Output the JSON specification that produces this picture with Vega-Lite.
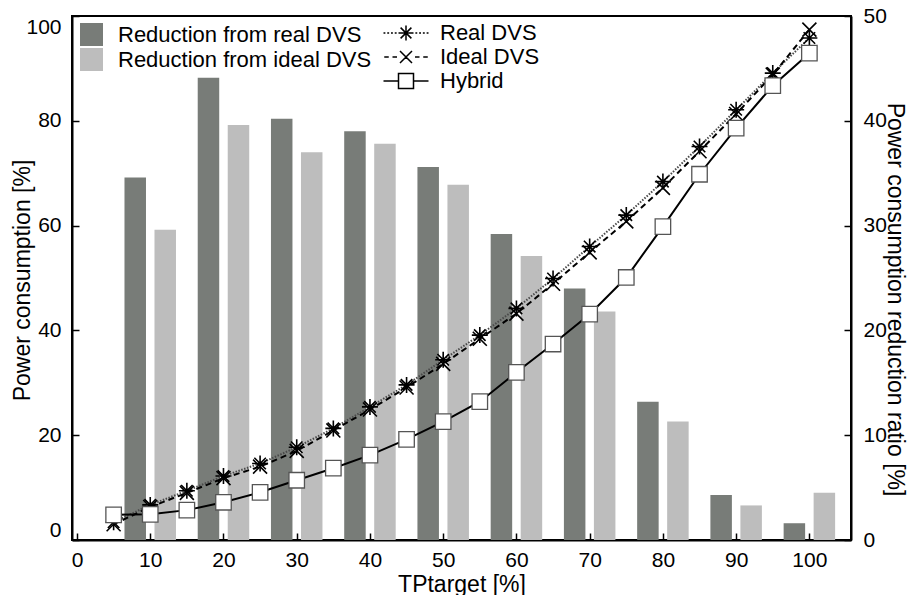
{
  "$schema": "https://vega.github.io/schema/vega-lite/v6.json",
  "width": 779,
  "height": 524,
  "autosize": "none",
  "padding": {"left": 72, "top": 16, "right": 63, "bottom": 55},
  "background": "white",
  "config": {
    "font": "Liberation Sans",
    "view": {"stroke": "black", "strokeWidth": 2},
    "axis": {
      "domainColor": "black", "domainWidth": 2,
      "tickColor": "black", "tickWidth": 1.5, "tickSize": -7,
      "labelFontSize": 21, "labelColor": "black", "labelFont": "Liberation Sans",
      "titleFontSize": 23, "titleFontWeight": "normal", "titleColor": "black", "titleFont": "Liberation Sans",
      "grid": false
    },
    "legend": {"labelFont": "Liberation Sans", "labelColor": "black", "labelLimit": 500}
  },
  "datasets": {
    "bars": [
      {"tp": 10, "kind": "Reduction from real DVS", "ratio": 34.6},
      {"tp": 20, "kind": "Reduction from real DVS", "ratio": 44.1},
      {"tp": 30, "kind": "Reduction from real DVS", "ratio": 40.2},
      {"tp": 40, "kind": "Reduction from real DVS", "ratio": 39.0},
      {"tp": 50, "kind": "Reduction from real DVS", "ratio": 35.6},
      {"tp": 60, "kind": "Reduction from real DVS", "ratio": 29.2},
      {"tp": 70, "kind": "Reduction from real DVS", "ratio": 24.0},
      {"tp": 80, "kind": "Reduction from real DVS", "ratio": 13.2},
      {"tp": 90, "kind": "Reduction from real DVS", "ratio": 4.3},
      {"tp": 100, "kind": "Reduction from real DVS", "ratio": 1.6},
      {"tp": 10, "kind": "Reduction from ideal DVS", "ratio": 29.6},
      {"tp": 20, "kind": "Reduction from ideal DVS", "ratio": 39.6},
      {"tp": 30, "kind": "Reduction from ideal DVS", "ratio": 37.0},
      {"tp": 40, "kind": "Reduction from ideal DVS", "ratio": 37.8},
      {"tp": 50, "kind": "Reduction from ideal DVS", "ratio": 33.9},
      {"tp": 60, "kind": "Reduction from ideal DVS", "ratio": 27.1},
      {"tp": 70, "kind": "Reduction from ideal DVS", "ratio": 21.8},
      {"tp": 80, "kind": "Reduction from ideal DVS", "ratio": 11.3},
      {"tp": 90, "kind": "Reduction from ideal DVS", "ratio": 3.3},
      {"tp": 100, "kind": "Reduction from ideal DVS", "ratio": 4.5}
    ],
    "lines": [
      {"tp": 5, "series": "Real DVS", "power": 3.4},
      {"tp": 10, "series": "Real DVS", "power": 6.7},
      {"tp": 15, "series": "Real DVS", "power": 9.4},
      {"tp": 20, "series": "Real DVS", "power": 12.2},
      {"tp": 25, "series": "Real DVS", "power": 14.6},
      {"tp": 30, "series": "Real DVS", "power": 17.7},
      {"tp": 35, "series": "Real DVS", "power": 21.3},
      {"tp": 40, "series": "Real DVS", "power": 25.4},
      {"tp": 45, "series": "Real DVS", "power": 29.6},
      {"tp": 50, "series": "Real DVS", "power": 34.4},
      {"tp": 55, "series": "Real DVS", "power": 39.1},
      {"tp": 60, "series": "Real DVS", "power": 44.2},
      {"tp": 65, "series": "Real DVS", "power": 49.9},
      {"tp": 70, "series": "Real DVS", "power": 56.0},
      {"tp": 75, "series": "Real DVS", "power": 62.0},
      {"tp": 80, "series": "Real DVS", "power": 68.4},
      {"tp": 85, "series": "Real DVS", "power": 75.1},
      {"tp": 90, "series": "Real DVS", "power": 82.1},
      {"tp": 95, "series": "Real DVS", "power": 89.1},
      {"tp": 100, "series": "Real DVS", "power": 95.8},
      {"tp": 5, "series": "Ideal DVS", "power": 3.0},
      {"tp": 10, "series": "Ideal DVS", "power": 6.3},
      {"tp": 15, "series": "Ideal DVS", "power": 9.0},
      {"tp": 20, "series": "Ideal DVS", "power": 11.8},
      {"tp": 25, "series": "Ideal DVS", "power": 14.0},
      {"tp": 30, "series": "Ideal DVS", "power": 17.0},
      {"tp": 35, "series": "Ideal DVS", "power": 20.9},
      {"tp": 40, "series": "Ideal DVS", "power": 24.9},
      {"tp": 45, "series": "Ideal DVS", "power": 29.1},
      {"tp": 50, "series": "Ideal DVS", "power": 33.6},
      {"tp": 55, "series": "Ideal DVS", "power": 38.4},
      {"tp": 60, "series": "Ideal DVS", "power": 43.2},
      {"tp": 65, "series": "Ideal DVS", "power": 48.9},
      {"tp": 70, "series": "Ideal DVS", "power": 54.9},
      {"tp": 75, "series": "Ideal DVS", "power": 60.8},
      {"tp": 80, "series": "Ideal DVS", "power": 67.2},
      {"tp": 85, "series": "Ideal DVS", "power": 74.2},
      {"tp": 90, "series": "Ideal DVS", "power": 81.3},
      {"tp": 95, "series": "Ideal DVS", "power": 88.8},
      {"tp": 100, "series": "Ideal DVS", "power": 97.4},
      {"tp": 5, "series": "Hybrid", "power": 4.8},
      {"tp": 10, "series": "Hybrid", "power": 4.9},
      {"tp": 15, "series": "Hybrid", "power": 5.7},
      {"tp": 20, "series": "Hybrid", "power": 7.2},
      {"tp": 25, "series": "Hybrid", "power": 9.1},
      {"tp": 30, "series": "Hybrid", "power": 11.4},
      {"tp": 35, "series": "Hybrid", "power": 13.7},
      {"tp": 40, "series": "Hybrid", "power": 16.2},
      {"tp": 45, "series": "Hybrid", "power": 19.2},
      {"tp": 50, "series": "Hybrid", "power": 22.6},
      {"tp": 55, "series": "Hybrid", "power": 26.4},
      {"tp": 60, "series": "Hybrid", "power": 32.0},
      {"tp": 65, "series": "Hybrid", "power": 37.4},
      {"tp": 70, "series": "Hybrid", "power": 43.1},
      {"tp": 75, "series": "Hybrid", "power": 50.1},
      {"tp": 80, "series": "Hybrid", "power": 59.8},
      {"tp": 85, "series": "Hybrid", "power": 69.8},
      {"tp": 90, "series": "Hybrid", "power": 78.6},
      {"tp": 95, "series": "Hybrid", "power": 86.7},
      {"tp": 100, "series": "Hybrid", "power": 92.9}
    ]
  },
  "resolve": {"scale": {"y": "independent"}},
  "encoding": {
    "x": {"field": "tp", "type": "quantitative", "scale": {"domain": [0, 105], "nice": false, "zero": false},
          "axis": {"values": [0,10,20,30,40,50,60,70,80,90,100], "format": "d", "labelPadding": 16,
                   "title": "TPtarget [%]", "titleY": 44, "titleBaseline": "middle"}}
  },
  "layer": [
    {
      "data": {"name": "bars"},
      "encoding": {
        "y": {"field": "ratio", "type": "quantitative", "scale": {"domain": [0, 50], "nice": false},
              "axis": {"orient": "right", "values": [0,10,20,30,40,50], "labelPadding": 19,
                       "title": "Power consumption reduction ratio [%]", "titleAngle": 90,
                       "titleX": 43, "titleY": 283, "titleAlign": "center", "titleBaseline": "middle"}},
        "color": {"field": "kind", "type": "nominal",
                  "scale": {"domain": ["Reduction from real DVS", "Reduction from ideal DVS"], "range": ["#787c78", "#bdbdbd"]},
                  "legend": {"title": null, "orient": "none", "legendX": 8, "legendY": 7, "padding": 0,
                             "symbolType": "square", "symbolSize": 529, "symbolStrokeWidth": 0, "symbolOpacity": 1,
                             "labelFontSize": 22, "labelOffset": 15, "rowPadding": 2}}
      },
      "layer": [
        {
          "transform": [{"filter": "datum.kind == 'Reduction from real DVS'"}],
          "mark": {"type": "bar", "width": 21.5, "xOffset": -15}
        },
        {
          "transform": [{"filter": "datum.kind == 'Reduction from ideal DVS'"}],
          "mark": {"type": "bar", "width": 21.5, "xOffset": 15}
        }
      ]
    },
    {
      "data": {"name": "lines"},
      "encoding": {
        "y": {"field": "power", "type": "quantitative", "scale": {"domain": [0, 100], "nice": false},
              "axis": {"orient": "left", "values": [0,20,40,60,80,100], "labelPadding": 18, "labelFlush": true,
                       "title": "Power consumption [%]", "titleAngle": -90,
                       "titleX": -50, "titleY": 264, "titleAlign": "center", "titleBaseline": "middle"}}
      },
      "layer": [
        {
          "transform": [{"filter": "datum.series == 'Real DVS'"}],
          "mark": {"type": "line", "stroke": "#4a4a4a", "strokeWidth": 2, "strokeDash": [1.5, 1.5]}
        },
        {
          "transform": [{"filter": "datum.series == 'Ideal DVS'"}],
          "mark": {"type": "line", "stroke": "black", "strokeWidth": 2, "strokeDash": [6, 4]}
        },
        {
          "transform": [{"filter": "datum.series == 'Hybrid'"}],
          "mark": {"type": "line", "stroke": "black", "strokeWidth": 2}
        },
        {
          "transform": [{"filter": "datum.series == 'Real DVS'"}],
          "mark": {"type": "point", "shape": "M-1,0H1M0,-1V1M-0.72,-0.72L0.72,0.72M-0.72,0.72L0.72,-0.72",
                   "size": 256, "filled": false, "stroke": "black", "strokeWidth": 1.6, "opacity": 1}
        },
        {
          "transform": [{"filter": "datum.series == 'Ideal DVS'"}],
          "mark": {"type": "point", "shape": "M-1,-1L1,1M-1,1L1,-1",
                   "size": 196, "filled": false, "stroke": "black", "strokeWidth": 1.6, "opacity": 1}
        },
        {
          "transform": [{"filter": "datum.series == 'Hybrid'"}],
          "mark": {"type": "point", "shape": "square", "size": 240, "filled": true,
                   "fill": "white", "stroke": "#555555", "strokeWidth": 1.3, "opacity": 1}
        },
        {
          "mark": {"type": "point", "opacity": 0, "filled": false},
          "encoding": {
            "shape": {"field": "series", "type": "nominal",
                      "scale": {"domain": ["Real DVS", "Ideal DVS", "Hybrid"],
                                "range": [
                                  "M-3,0H-2.75M-2.5,0H-2.25M-2,0H-1.75M-1.5,0H-1.25M1.25,0H1.5M1.75,0H2M2.25,0H2.5M2.75,0H3M-1,0H1M0,-1V1M-0.72,-0.72L0.72,0.72M-0.72,0.72L0.72,-0.72",
                                  "M-2.9,0H-2.3M-1.8,0H-1.2M1.2,0H1.8M2.3,0H2.9M-0.8,-0.8L0.8,0.8M-0.8,0.8L0.8,-0.8",
                                  "M-3,0H-1M1,0H3M-1,-1H1V1H-1Z"
                                ]},
                      "legend": {"title": null, "orient": "none", "legendX": 323, "legendY": 6, "padding": 0,
                                 "symbolSize": 225, "symbolStrokeColor": "black", "symbolFillColor": "white",
                                 "symbolStrokeWidth": 1.5, "symbolOpacity": 1,
                                 "labelFontSize": 22, "labelOffset": 23, "rowPadding": 2}}
          }
        }
      ]
    }
  ]
}
